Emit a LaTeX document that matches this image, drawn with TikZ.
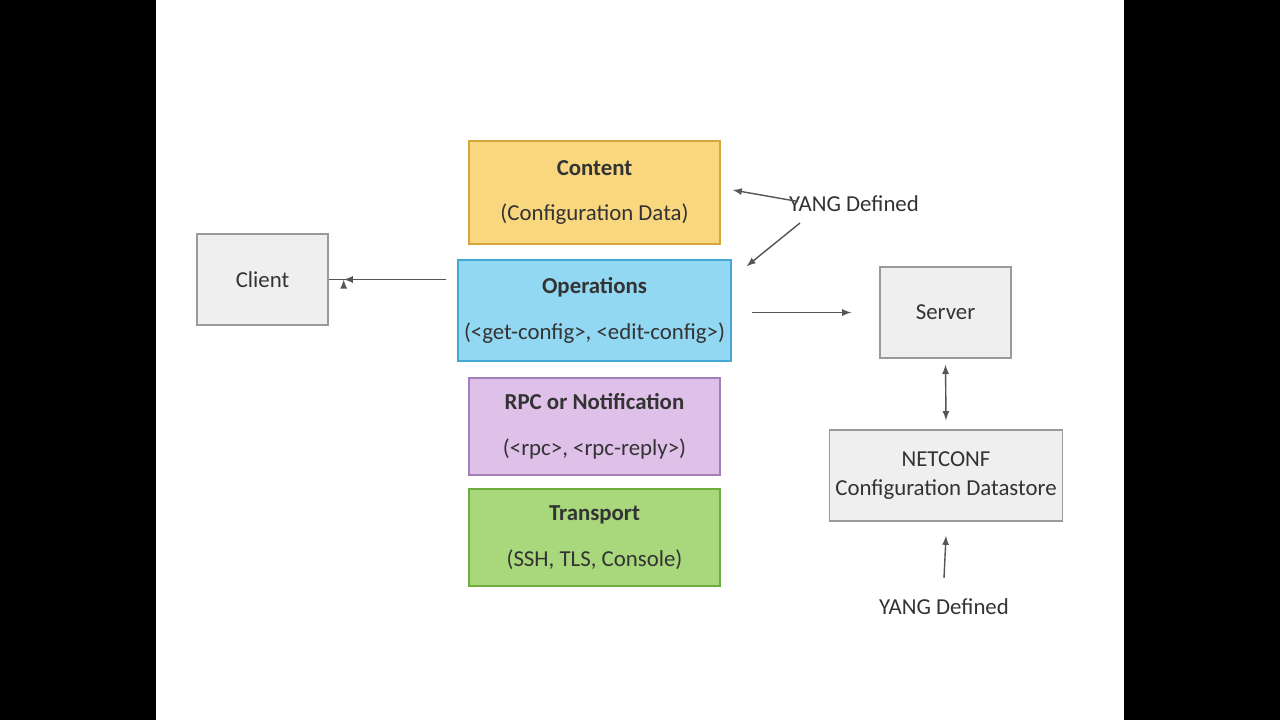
\documentclass[tikz,border=0pt]{standalone}
\usepackage{fontspec}
\setmainfont{Carlito}
\usetikzlibrary{positioning}
\definecolor{contentfill}{HTML}{F9D77E}
\definecolor{contentline}{HTML}{D6A63C}
\definecolor{opsfill}{HTML}{92D8F2}
\definecolor{opsline}{HTML}{45A8D4}
\definecolor{rpcfill}{HTML}{DEC0E8}
\definecolor{rpcline}{HTML}{A47EB6}
\definecolor{transfill}{HTML}{A8D77C}
\definecolor{transline}{HTML}{6DAE3E}
\definecolor{hostfill}{HTML}{EFEFEF}
\definecolor{hostline}{HTML}{9A9A9A}
\definecolor{arrowgray}{HTML}{555555}
\tikzset{
  layer/.style={draw,thick,rectangle,minimum width=5.02cm,minimum height=1.98cm,
    align=center,font=\fontsize{13}{26}\selectfont,text=black!80},
  host/.style={draw=hostline,fill=hostfill,thick,rectangle,minimum height=1.82cm,
    align=center,font=\fontsize{13}{17}\selectfont,text=black!80},
  conn/.style={draw=arrowgray,thick,->,>=latex},
  lbl/.style={font=\fontsize{13}{15}\selectfont,text=black!80}
}
\begin{document}
\begin{tikzpicture}[x=0.02cm,y=-0.02cm]
    %% Frame
    \fill[black] (0,0) rectangle (1280,720);
    \fill[white] (156,0) rectangle (1124,720);
    \useasboundingbox (0,0) rectangle (1280,720);
    %% Layers
    \node[layer,draw=contentline,fill=contentfill,minimum height=2.06cm]
        (content) at (594.5,192.5) {\textbf{Content}\\(Configuration Data)};
    \node[layer,draw=opsline,fill=opsfill,minimum height=2.02cm]
        (ops) at (594.5,310.5) {\textbf{Operations}\\(<get-config>, <edit-config>)};
    \node[layer,draw=rpcline,fill=rpcfill,minimum height=1.94cm]
        (rpc) at (594.5,426.5) {\textbf{RPC or Notification}\\(<rpc>, <rpc-reply>)};
    \node[layer,draw=transline,fill=transfill,minimum height=1.94cm]
        (transport) at (594.5,537.5) {\textbf{Transport}\\(SSH, TLS, Console)};
    %% Hosts
    \node[host,minimum width=2.62cm] (client) at (262.5,279.5) {Client};
    \node[host,minimum width=2.62cm] (server) at (945.5,312.5) {Server};
    \node[host,minimum width=4.56cm] (store) at (946,475.5)
        {NETCONF\\Configuration Datastore};
    %% Labels
    \node[lbl] (yangtop) at (854,204) {YANG Defined};
    \node[lbl] (yangbot) at (944,607) {YANG Defined};
    %% Arrows
    \draw[conn] (ops.west |- client) ++(-11,0) coordinate (opsw)
        -- (client.east) ++(15,0);
    \draw[conn] ([xshift=-0.22cm]ops.west |- client) -- ([xshift=0.3cm]client.east);
    \draw[conn] ([xshift=0.4cm]ops.east |- server) -- ([xshift=-0.56cm]server.west);
    \draw[conn] ([xshift=0.3cm,yshift=0.05cm]yangtop.west) -- ([xshift=0.24cm,yshift=0.05cm]content.east);
    \draw[conn] ([xshift=0.34cm,yshift=-0.38cm]yangtop.west) -- ([xshift=0.3cm,yshift=-0.14cm]ops.north east);
    \draw[conn,<->] ([yshift=-0.12cm]server.south) -- ([yshift=0.18cm]store.north);
    \draw[conn] ([yshift=0.3cm]yangbot.north) -- ([yshift=-0.28cm]store.south);
\end{tikzpicture}
\end{document}
